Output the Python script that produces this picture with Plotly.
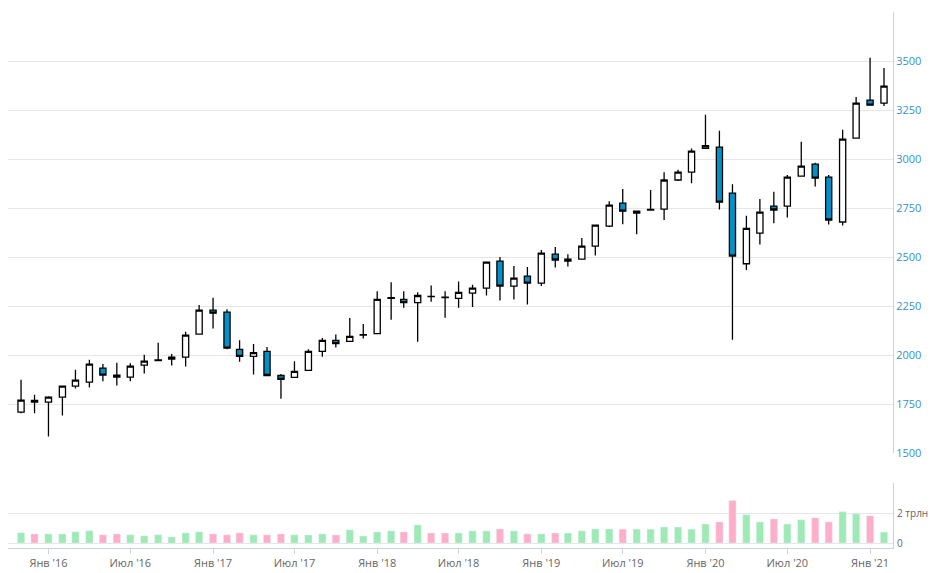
import pandas as pd
import plotly.graph_objects as go

dates = pd.date_range("2015-11-01", periods=64, freq="MS")

opens = [1709, 1769, 1760, 1786, 1842, 1862, 1934, 1898, 1888, 1949, 1972, 1980, 1990, 2107, 2229, 2219,
         2029, 1993, 2019, 1896, 1886, 1922, 2019, 2075, 2070, 2102, 2110, 2290, 2284, 2268, 2300, 2296,
         2289, 2316, 2342, 2479, 2352, 2403, 2367, 2515, 2479, 2490, 2556, 2658, 2775, 2724, 2740, 2745,
         2893, 2933, 3055, 3061, 2826, 2466, 2622, 2760, 2760, 2913, 2974, 2908, 2679, 3107, 3301, 3285]
highs = [1874, 1798, 1790, 1842, 1925, 1976, 1955, 1961, 1959, 2002, 2063, 2005, 2119, 2255, 2292, 2234,
         2076, 2056, 2041, 1903, 1969, 2030, 2087, 2105, 2189, 2158, 2326, 2372, 2326, 2321, 2355, 2326,
         2376, 2359, 2474, 2500, 2454, 2449, 2536, 2551, 2515, 2597, 2663, 2785, 2847, 2734, 2842, 2933,
         2945, 3054, 3226, 3144, 2872, 2711, 2796, 2833, 2918, 3088, 2981, 2918, 3149, 3316, 3517, 3464]
lows = [1704, 1704, 1585, 1692, 1830, 1835, 1866, 1845, 1866, 1906, 1969, 1947, 1942, 2107, 2136, 2030,
        1966, 1901, 1896, 1777, 1886, 1922, 1991, 2039, 2070, 2085, 2110, 2180, 2241, 2068, 2272, 2190,
        2241, 2245, 2304, 2279, 2284, 2258, 2352, 2447, 2452, 2490, 2508, 2653, 2668, 2617, 2740, 2689,
        2888, 2876, 3056, 2743, 2078, 2434, 2564, 2672, 2702, 2913, 2860, 2666, 2661, 3107, 3275, 3270]
closes = [1770, 1760, 1786, 1842, 1872, 1954, 1898, 1888, 1944, 1969, 1975, 1990, 2102, 2229, 2214, 2036,
          1993, 2013, 1896, 1876, 1917, 2019, 2075, 2059, 2095, 2104, 2284, 2293, 2268, 2304, 2298, 2293,
          2320, 2342, 2474, 2352, 2393, 2367, 2520, 2485, 2490, 2556, 2663, 2765, 2734, 2734, 2743, 2893,
          2933, 3040, 3068, 2780, 2505, 2646, 2729, 2740, 2908, 2964, 2903, 2689, 3102, 3285, 3275, 3372]
# volume, trillions
volumes = [0.68, 0.61, 0.61, 0.61, 0.75, 0.82, 0.55, 0.61, 0.55, 0.48, 0.55, 0.41, 0.68, 0.75, 0.61, 0.55,
           0.68, 0.55, 0.55, 0.61, 0.55, 0.54, 0.61, 0.54, 0.88, 0.47, 0.74, 0.81, 0.74, 1.21, 0.67, 0.67,
           0.67, 0.81, 0.81, 0.94, 0.81, 0.61, 0.61, 0.67, 0.67, 0.81, 0.94, 0.94, 0.93, 0.93, 0.93,
           1.07, 1.07, 0.93, 1.27, 1.41, 2.84, 1.89, 1.41, 1.61, 1.27, 1.55, 1.68, 1.41, 2.09, 1.95, 1.82, 0.73]

tick_dates = pd.date_range("2016-01-01", periods=11, freq="6MS")
tick_labels = ["Янв '16", "Июл '16", "Янв '17", "Июл '17", "Янв '18", "Июл '18",
               "Янв '19", "Июл '19", "Янв '20", "Июл '20", "Янв '21"]

vol_colors = ["#9deab5" if c >= o else "#ffaec9" for o, c in zip(opens, closes)]

fig = go.Figure()
fig.add_trace(go.Candlestick(
    x=dates, open=opens, high=highs, low=lows, close=closes,
    increasing=dict(fillcolor="white", line=dict(color="black", width=1.3)),
    decreasing=dict(fillcolor="#0090c8", line=dict(color="black", width=1.3)),
    whiskerwidth=0, xaxis="x", yaxis="y", showlegend=False, hoverinfo="x+y"))
fig.add_trace(go.Bar(x=dates, y=volumes, marker_color=vol_colors, width=16 * 24 * 3600 * 1000,
                     xaxis="x", yaxis="y2", showlegend=False))

# the page puts the figure 8px in from the corner, margins allow for that
fig.update_layout(
    width=937, height=573, margin=dict(l=0, r=52, t=4, b=33),
    paper_bgcolor="white", plot_bgcolor="white",
    font=dict(family="Open Sans", size=11, color="#666666"),
    xaxis=dict(anchor="y2", range=["2015-10-03", "2021-02-21"], rangeslider=dict(visible=False),
               tickvals=tick_dates, ticktext=tick_labels, ticks="outside", ticklen=5,
               tickcolor="#c8d4e6", showline=True, linecolor="#c8d4e6", showgrid=False,
               tickfont=dict(size=11, color="#666666")),
    yaxis=dict(domain=[0.177, 1], range=[1500, 3750], side="right",
               tickvals=list(range(1500, 3751, 250))[:-1],
               gridcolor="#e6e6e6", showline=True, linecolor="#c8d4e6",
               tickfont=dict(size=11, color="#3a8fc7"), zeroline=False),
    yaxis2=dict(domain=[0, 0.121], range=[-0.33, 4], side="right",
                tickvals=[0, 2, 4], ticktext=["0", "2 трлн", ""], ticklabelstandoff=1,
                gridcolor="#e6e6e6", showline=True, linecolor="#c8d4e6", zeroline=False,
                tickfont=dict(size=10, color="#666666")),
)

fig.write_html("out.html")
